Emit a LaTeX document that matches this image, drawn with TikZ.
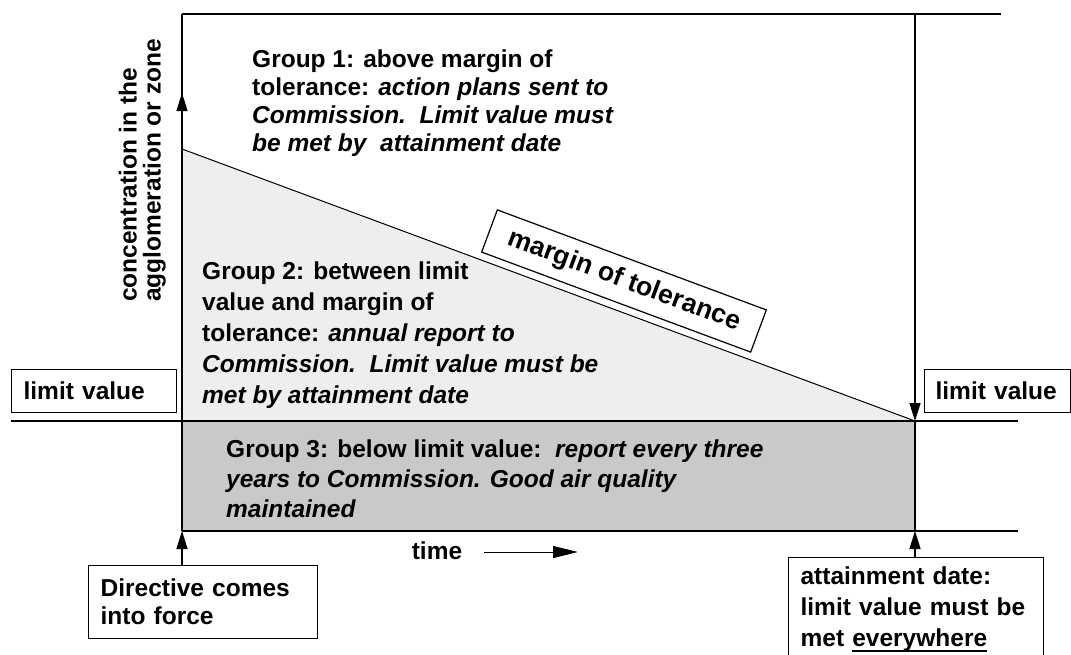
\documentclass[tikz,border=0pt]{standalone}
\usepackage{fontspec}
\setmainfont{Liberation Sans}
\usetikzlibrary{arrows.meta,calc}
% thick underline sitting just below the baseline
\newcommand{\thickul}[1]{\setbox0\hbox{#1}\rlap{\rule[-6pt]{\wd0}{2pt}}\box0}
\begin{document}
\begin{tikzpicture}[x=1pt,y=-1pt,
  txt/.style={font=\bfseries\fontsize{24.5}{#1}\selectfont, inner sep=0pt, align=left},
  txt/.default=30.5,
  lbl/.style={draw, line width=1.2pt, fill=white, anchor=north west, inner ysep=0pt, inner xsep=12pt, align=left},
  ln/.style={line width=1.3pt},
  tip/.style={-{Triangle[length=18pt,width=11pt]}},
  longtip/.style={-{Triangle[length=25pt,width=12pt]}},
  ]
\useasboundingbox (0,0) rectangle (1071,654);

% corners of the chart area
\coordinate (O) at (182,531);
\coordinate (L) at (182,421);
\coordinate (A) at (915,421);
\coordinate (B) at (915,531);
\coordinate (T) at (182,149);
\coordinate (axtop) at (182,14);
\coordinate (rtop) at (915,14);

% shaded bands
\fill[gray!13] (T) -- (A) -- (L) -- cycle;
\fill[gray!42] (L) rectangle (B);

% frame lines
\draw[ln] (axtop) -- (1001,14);
\draw[ln] (O) -- (axtop);
\draw[ln] (11,421) -- (1018,421);
\draw[ln] (O) -- (1018,531);
\draw[ln] (A) -- (B);
\draw[line width=1pt] (T) -- (A);
\draw[ln, tip] (rtop) -- (A);
\draw[ln, tip] (182,130) -- (182,93);

% axis label
\node[txt=24, rotate=90, anchor=south west] (ylab) at (166,302)
  {concentration in the\\agglomeration or zone};

% group descriptions
\node[txt=28, anchor=north west] (g1) at (252,50)
  {Group 1: above margin of\\
   tolerance: \textit{action plans sent to}\\
   \textit{Commission.\ \ Limit value must}\\
   \textit{be met by\ \ attainment date}};
\node[txt=30.8, anchor=north west] (g2) at (202,262)
  {Group 2: between limit\\
   value and margin of\\
   tolerance: \textit{annual report to}\\
   \textit{Commission.\ \ Limit value must be}\\
   \textit{met by attainment date}};
\node[txt=30, anchor=north west] (g3) at (226,440)
  {Group 3: below limit value:\ \ \textit{report every three}\\
   \textit{years to Commission. Good air quality}\\
   \textit{maintained}};

% tilted label on the tolerance line
\node[draw, fill=white, line width=1.2pt, rotate=-20.4, minimum width=287pt,
      minimum height=45pt, inner sep=0pt, font=\bfseries\fontsize{26.5}{30}\selectfont]
  (mt) at (624,281) {margin of tolerance\hspace{14pt}};

% limit value labels
\node[lbl, font=\bfseries\fontsize{24.5}{30}\selectfont, minimum width=165pt,
      minimum height=43pt, text width=141pt] (lvl) at (11,369) {limit value};
\node[lbl, font=\bfseries\fontsize{24.5}{30}\selectfont, minimum width=144pt,
      minimum height=43pt, inner xsep=11pt, text width=124pt] (lvr) at (924,369) {limit value};

% time axis
\node[txt] (time) at (437,551) {time};
\coordinate (tarr) at (578,552);
\draw[line width=1pt, longtip] (time.east |- tarr) ++(22,0) -- (tarr);

% event boxes
\node[lbl, font=\bfseries\fontsize{24.5}{28}\selectfont, minimum width=229pt,
      minimum height=73pt, text width=205pt] (dir) at (88,565)
  {Directive comes\\into force};
\node[lbl, font=\bfseries\fontsize{24.5}{31}\selectfont, minimum width=255pt,
      minimum height=103pt, inner ysep=9pt, text width=231pt] (att) at (788,557)
  {attainment date:\\limit value must be\\met \thickul{everywhere}};

\draw[ln, tip] (dir.north -| O) -- (O);
\draw[ln, tip] (att.north -| B) -- (B);
\end{tikzpicture}
\end{document}
